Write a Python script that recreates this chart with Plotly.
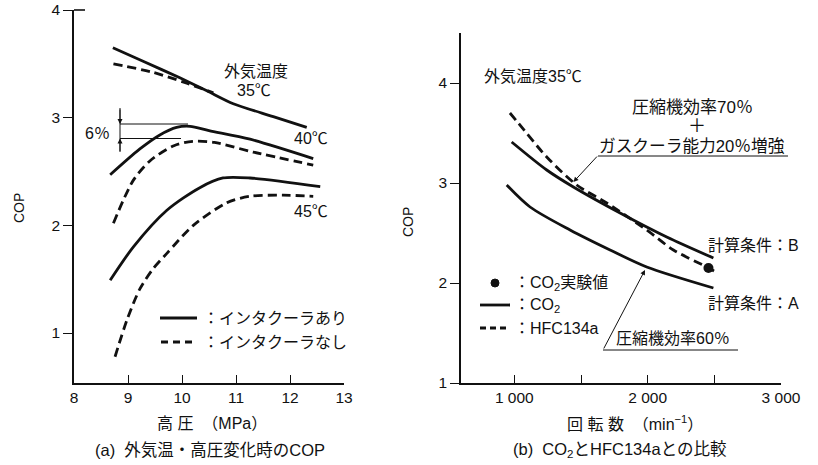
import plotly.graph_objects as go

W, H = 818, 465
def PX(x):
    return x / W
def PY(y):
    return 1 - y / H

# ---------------- (a) data ----------------
p_35_with = [8.72, 9.3, 9.96, 10.46, 10.95, 11.69, 12.31]
cop_35_with = [3.65, 3.52, 3.37, 3.25, 3.13, 3.01, 2.91]
p_35_without = [8.73, 9.47, 10.09, 10.58]
cop_35_without = [3.50, 3.42, 3.32, 3.23]
p_40_with = [8.67, 9.22, 9.59, 9.9, 10.15, 10.5, 11.26, 12.43]
cop_40_with = [2.47, 2.71, 2.84, 2.91, 2.92, 2.88, 2.80, 2.62]
p_40_without = [8.73, 9.1, 9.41, 9.85, 10.2, 10.6, 11.32, 12.43]
cop_40_without = [2.02, 2.42, 2.60, 2.74, 2.78, 2.77, 2.68, 2.56]
p_45_with = [8.67, 9.10, 9.72, 10.33, 10.76, 11.26, 12.56]
cop_45_with = [1.49, 1.80, 2.14, 2.35, 2.44, 2.44, 2.36]
p_45_without = [8.76, 8.98, 9.22, 9.47, 9.72, 10.21, 10.83, 11.26, 11.87, 12.43]
cop_45_without = [0.78, 1.12, 1.41, 1.60, 1.74, 2.00, 2.21, 2.27, 2.28, 2.27]

# ---------------- (b) data ----------------
rpm_hfc = [967, 1030, 1243, 1468, 1693, 1993, 2193, 2443, 2510]
cop_hfc = [3.70, 3.60, 3.26, 2.98, 2.80, 2.53, 2.33, 2.16, 2.11]
rpm_co2_b = [980, 1243, 1443, 1793, 2143, 2493]
cop_co2_b = [3.41, 3.13, 2.96, 2.70, 2.46, 2.25]
rpm_co2_a = [943, 1118, 1418, 1718, 1993, 2493]
cop_co2_a = [2.98, 2.76, 2.53, 2.33, 2.16, 1.95]
rpm_exp = [2456]
cop_exp = [2.15]

INK = "#111111"
JP = "Liberation Sans, Noto Sans CJK JP"
LAT = "Liberation Sans, Arial"
LW = 2.8
DASH = "9px,5px"

fig = go.Figure()

def line(x, y, dash, xa="x", ya="y"):
    fig.add_trace(go.Scatter(x=x, y=y, mode="lines", xaxis=xa, yaxis=ya,
                             line=dict(color=INK, width=LW, dash=dash, shape="spline", smoothing=0.8),
                             showlegend=False, hoverinfo="skip"))

line(p_35_with, cop_35_with, "solid")
line(p_35_without, cop_35_without, DASH)
line(p_40_with, cop_40_with, "solid")
line(p_40_without, cop_40_without, DASH)
line(p_45_with, cop_45_with, "solid")
line(p_45_without, cop_45_without, DASH)

line(rpm_hfc, cop_hfc, DASH, "x2", "y2")
line(rpm_co2_b, cop_co2_b, "solid", "x2", "y2")
line(rpm_co2_a, cop_co2_a, "solid", "x2", "y2")
fig.add_trace(go.Scatter(x=rpm_exp, y=cop_exp, mode="markers", xaxis="x2", yaxis="y2",
                         marker=dict(color=INK, size=10), showlegend=False, hoverinfo="skip"))

axis_common = dict(showgrid=False, zeroline=False, showline=True, linecolor=INK, linewidth=1.6,
                   automargin=False,
                   tickcolor=INK, tickwidth=1.3, tickfont=dict(family=LAT, size=15.5, color=INK))

fig.update_layout(
    width=W, height=H, margin=dict(l=0, r=0, t=0, b=0, pad=0, autoexpand=False),
    paper_bgcolor="white", plot_bgcolor="white",
    xaxis=dict(domain=[PX(74), PX(344)], range=[8, 13], tickvals=[8, 9, 10, 11, 12, 13],
               ticks="inside", ticklen=8, anchor="y", **axis_common),
    yaxis=dict(domain=[PY(383), PY(10)], range=[0.536, 4.0], tickvals=[1, 2, 3, 4],
               ticks="outside", ticklen=9, anchor="x", **axis_common),
    xaxis2=dict(domain=[PX(461), PX(781)], range=[600, 3000],
                tickvals=[1000, 1500, 2000, 2500, 3000], ticktext=["1 000", "", "2 000", "", "3 000"],
                ticks="inside", ticklen=8, anchor="y2", **axis_common),
    yaxis2=dict(domain=[PY(383), PY(33)], range=[1, 4.5], tickvals=[1, 2, 3, 4],
                ticks="outside", ticklen=9, anchor="x2", **axis_common),
)

shapes = []
def seg(x0, y0, x1, y1, w=1.0, dash="solid"):
    shapes.append(dict(type="line", xref="paper", yref="paper", x0=PX(x0), y0=PY(y0),
                       x1=PX(x1), y1=PY(y1), line=dict(color=INK, width=w, dash=dash)))

# top tick of left y axis
seg(74, 10, 85, 10, 1.6)
# 6% guide lines
seg(120, 124, 188, 124, 1.0)
seg(120, 138.5, 181, 138.5, 1.0)
seg(120, 108, 120, 152, 1.0)
# legend (a)
seg(160, 318, 197, 318, LW)
seg(161, 342, 197, 342, LW, "7px,5px")
# legend (b)
seg(480, 305, 510, 305, LW)
seg(480, 328, 510, 328, LW, "6px,4px")
shapes.append(dict(type="circle", xref="paper", yref="paper", x0=PX(491), x1=PX(499),
                   y0=PY(287), y1=PY(279), fillcolor=INK, line=dict(color=INK, width=1)))
# underlines (b)
seg(598, 156, 788, 156, 1.0)
seg(603, 350, 738, 350, 1.0)
fig.update_layout(shapes=shapes)

ann = []
def txt(x, y, s, size=16, fam=JP, xanchor="center", angle=0):
    ann.append(dict(x=PX(x), y=PY(y), xref="paper", yref="paper", text=s, showarrow=False,
                    font=dict(family=fam, size=size, color=INK), xanchor=xanchor, yanchor="middle",
                    textangle=angle))

# (a) texts
txt(19, 208, "COP", 14, LAT, angle=-90)
txt(256, 71, "外気温度", 16)
txt(254, 90, "35℃", 16)
txt(311, 138, "40℃", 16)
txt(311, 211, "45℃", 16)
txt(97, 133, "6％", 16)
txt(201, 318, "：インタクーラあり", 16, xanchor="left")
txt(201, 342, "：インタクーラなし", 16, xanchor="left")
txt(212, 423, "高 圧  （MPa）", 16)
txt(210, 450, "(a)  外気温・高圧変化時のCOP", 16.5)

# (b) texts
txt(408, 222, "COP", 14, LAT, angle=-90)
txt(482, 77, "外気温度35℃", 16, xanchor="left")
txt(692, 107, "圧縮機効率70％", 17)
txt(697, 126, "＋", 18)
txt(597, 146, "ガスクーラ能力20％増強", 16.7, xanchor="left")
txt(706, 245, "計算条件：B", 16, xanchor="left")
txt(706, 303, "計算条件：A", 16, xanchor="left")
txt(512, 283, "：CO<sub>2</sub>実験値", 16, xanchor="left")
txt(512, 305, "：CO<sub>2</sub>", 16, xanchor="left")
txt(512, 328, "：HFC134a", 16, xanchor="left")
txt(614, 338, "圧縮機効率60％", 16, xanchor="left")
txt(635, 423, "回 転 数  （min<sup>−1</sup>）", 16)
txt(620, 450, "(b)  CO<sub>2</sub>とHFC134aとの比較", 16.5)

# arrows
def arrow(x, y, ax, ay, xref="paper", yref="paper"):
    ann.append(dict(x=x, y=y, xref=xref, yref=yref, ax=ax, ay=ay, axref="pixel", ayref="pixel",
                    text="", showarrow=True, arrowhead=2, arrowsize=1.0, arrowwidth=1.0, arrowcolor=INK))

arrow(PX(120), PY(124), 0, -16)
arrow(PX(120), PY(138.5), 0, 14)
arrow(1443, 3.01, 25, -27, "x2", "y2")
arrow(1980, 2.13, -42, 80, "x2", "y2")

fig.update_layout(annotations=ann)
fig.write_html("out.html", config={"displayModeBar": False},
               post_script="document.body.style.margin='0';document.body.style.overflow='hidden';")
